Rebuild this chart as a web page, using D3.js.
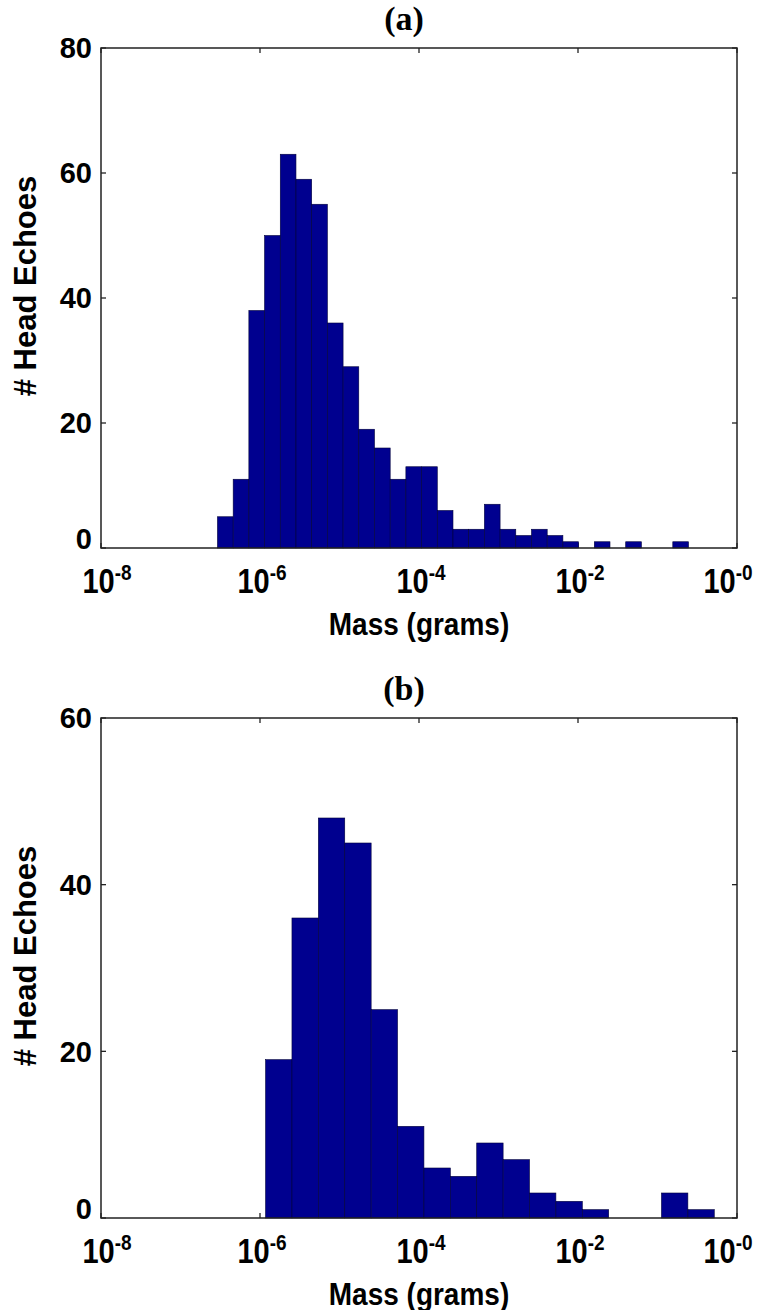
<!DOCTYPE html>
<html>
<head>
<meta charset="utf-8">
<script src="https://cdn.jsdelivr.net/npm/d3@7"></script>
<style>
  body { margin: 0; background: #fff; }
  text { font-family: "Liberation Sans", Arial, sans-serif; font-weight: bold; fill: #000; }
  .ttl { font-family: "Liberation Serif", "Times New Roman", serif; }
</style>
</head>
<body>
<div id="chart"></div>
<script>
// histogram counts, one per log10(mass) bin
const countsA = [5, 11, 38, 50, 63, 59, 55, 36, 29, 19, 16, 11, 13, 13, 6, 3, 3, 7, 3, 2, 3, 2, 1, 0, 1, 0, 1, 0, 0, 1];
const countsB = [19, 36, 48, 45, 25, 11, 6, 5, 9, 7, 3, 2, 1, 0, 0, 3, 1];
// bin layout in log10(grams)
const binStartA = -6.535, binWidthA = 0.1975;
const binStartB = -5.93, binWidthB = 0.332;

const massExp = [-8, -6, -4, -2, 0];
const massSup = ["-8", "-6", "-4", "-2", "-0"];
const countTicksA = [0, 20, 40, 60, 80];
const countTicksB = [0, 20, 40, 60];
const titles = ["(a)", "(b)"];

const width = 761, height = 1310;
const svg = d3.select("#chart").append("svg")
    .attr("width", width)
    .attr("height", height);

function drawPanel(top, counts, binStart, binWidth, yMax, yTicks, title){
    const left = 101, right = 737, bottom = top + 500;
    const x = d3.scaleLog().domain([1e-8, 1]).range([left, right]);
    const y = d3.scaleLinear().domain([0, yMax]).range([bottom, top]);
    const g = svg.append("g");
    const tick = 5;

    // ticks (drawn under the bars, like matlab)
    massExp.forEach(e => {
        const px = x(Math.pow(10, e));
        g.append("line").attr("x1", px).attr("x2", px).attr("y1", bottom).attr("y2", bottom - tick)
            .attr("stroke", "#222").attr("stroke-width", 1.3);
        g.append("line").attr("x1", px).attr("x2", px).attr("y1", top).attr("y2", top + tick)
            .attr("stroke", "#222").attr("stroke-width", 1.3);
    });
    yTicks.forEach(v => {
        g.append("line").attr("x1", left).attr("x2", left + tick).attr("y1", y(v)).attr("y2", y(v))
            .attr("stroke", "#222").attr("stroke-width", 1.3);
        g.append("line").attr("x1", right).attr("x2", right - tick).attr("y1", y(v)).attr("y2", y(v))
            .attr("stroke", "#222").attr("stroke-width", 1.3);
    });

    const bins = counts.map((c, i) => ({
        x0: Math.pow(10, binStart + i * binWidth),
        x1: Math.pow(10, binStart + (i + 1) * binWidth),
        c: c
    })).filter(d => d.c > 0);

    g.selectAll("rect.bar")
        .data(bins).enter()
        .append("rect")
        .attr("class", "bar")
        .attr("x", d => x(d.x0))
        .attr("width", d => x(d.x1) - x(d.x0))
        .attr("y", d => y(d.c))
        .attr("height", d => y(0) - y(d.c))
        .attr("fill", "#00008f")
        .attr("stroke", "#00003a")
        .attr("stroke-width", 0.6);

    // frame
    g.append("rect")
        .attr("x", left).attr("y", top)
        .attr("width", right - left).attr("height", bottom - top)
        .attr("fill", "none").attr("stroke", "#222").attr("stroke-width", 1.5);

    // y tick labels
    yTicks.forEach(v => {
        g.append("text")
            .attr("x", left - 9)
            .attr("y", y(v) + (v === 0 ? -9 : 0))
            .attr("dy", "0.36em")
            .attr("text-anchor", "end")
            .style("font-size", "29px")
            .text(v);
    });

    // x tick labels 10^n, outer ones pulled in to stay on the page
    massExp.forEach((e, i) => {
        let shift = 2;
        if (i === 0) shift = 6;
        if (i === massExp.length - 1) shift = -9;
        const t = g.append("text")
            .attr("transform", "translate(" + (x(Math.pow(10, e)) + shift) + "," + (bottom + 45) + ") scale(1,1.2)")
            .attr("text-anchor", "middle")
            .style("font-size", "29px");
        t.append("tspan").text("10");
        t.append("tspan").attr("dy", -11).style("font-size", "19px").text(massSup[i]);
    });

    g.append("text")
        .attr("transform", "translate(" + ((left + right) / 2) + "," + (bottom + 87) + ") scale(1,1.1)")
        .attr("text-anchor", "middle")
        .style("font-size", "28px")
        .text("Mass (grams)");

    g.append("text")
        .attr("transform", "translate(36," + ((top + bottom) / 2 - 12) + ") rotate(-90)")
        .attr("text-anchor", "middle")
        .style("font-size", "31px")
        .text("# Head Echoes");

    g.append("text")
        .attr("class", "ttl")
        .attr("x", 404)
        .attr("y", top - 18)
        .attr("text-anchor", "middle")
        .style("font-size", "34px")
        .text(title);
}

drawPanel(48, countsA, binStartA, binWidthA, 80, countTicksA, titles[0]);
drawPanel(718, countsB, binStartB, binWidthB, 60, countTicksB, titles[1]);
</script>
</body>
</html>
